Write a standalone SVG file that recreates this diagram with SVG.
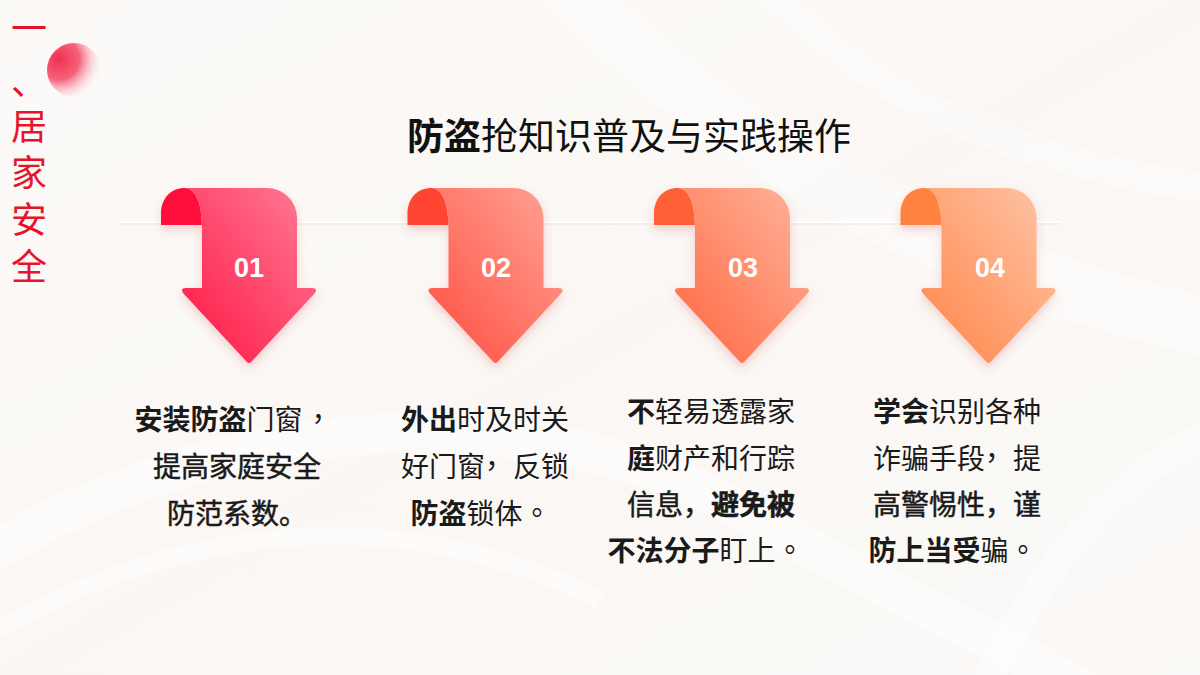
<svg xmlns="http://www.w3.org/2000/svg" width="1200" height="675" viewBox="0 0 1200 675">
<defs>
<linearGradient id="bg" x1="0" y1="0" x2="1" y2="1">
<stop offset="0" stop-color="#fcfaf8"/>
<stop offset="0.5" stop-color="#faf7f4"/>
<stop offset="1" stop-color="#fbf9f7"/>
</linearGradient>
<radialGradient id="ball" cx="0.22" cy="0.3" r="0.85">
<stop offset="0" stop-color="#f0304f"/>
<stop offset="0.45" stop-color="#f4637a"/>
<stop offset="1" stop-color="#ffffff" stop-opacity="0"/>
</radialGradient>
<linearGradient id="g1" x1="0" y1="1" x2="1" y2="0"><stop offset="0" stop-color="#ff1442"/><stop offset="1" stop-color="#ff7d97"/></linearGradient>
<linearGradient id="g2" x1="0" y1="1" x2="1" y2="0"><stop offset="0" stop-color="#ff4c3e"/><stop offset="1" stop-color="#ffa597"/></linearGradient>
<linearGradient id="g3" x1="0" y1="1" x2="1" y2="0"><stop offset="0" stop-color="#ff653f"/><stop offset="1" stop-color="#ffb59c"/></linearGradient>
<linearGradient id="g4" x1="0" y1="1" x2="1" y2="0"><stop offset="0" stop-color="#ff8447"/><stop offset="1" stop-color="#ffc6a8"/></linearGradient>
<filter id="sh" x="-30%" y="-20%" width="160%" height="150%">
<feDropShadow dx="0" dy="5" stdDeviation="5" flood-color="#d04040" flood-opacity="0.22"/>
</filter>
<path id="body" d="M -64,188 H 18 A 30 30 0 0 1 48,218 V 288 H 63 Q 69,288 66,293 L 3,361 Q 0,365 -3,361 L -66,293 Q -69,288 -63,288 H -47 V 228 C -47,200 -55,188 -64,188 Z"/>
<path id="curl" d="M -88,225 V 214 C -88,198 -78,188 -64,188 C -55,188 -47,200 -47,228 L -47,225 Z"/>
</defs>
<style>
.num{font-family:"Liberation Sans",Arial,sans-serif;font-weight:bold;font-size:27px;fill:#ffffff;text-anchor:middle}
.t{font-family:"Noto Sans CJK SC",sans-serif;font-size:28px;fill:#1a1a1a;text-anchor:middle}
.b{font-weight:bold}
.m{stroke:#1a1a1a;stroke-width:0.5px}
.side{font-family:"Noto Sans CJK SC",sans-serif;font-size:36px;fill:#e8132b;text-anchor:middle}
.vert{font-family:"Noto Sans CJK SC",sans-serif;font-size:36px;fill:#e8132b;writing-mode:vertical-rl;letter-spacing:10.7px}
.title{font-family:"Noto Sans CJK SC",sans-serif;font-size:37px;fill:#111111;text-anchor:middle}
</style>
<rect width="1200" height="675" fill="url(#bg)"/>
<g id="background" fill="none" stroke="#ffffff">
<path d="M 560,-20 C 700,120 900,260 1220,330" stroke-width="60" stroke-opacity="0.4"/>
<path d="M 760,-20 C 860,90 1000,160 1220,190" stroke-width="30" stroke-opacity="0.4"/>
<path d="M -20,560 C 200,420 520,380 760,520 C 900,600 1000,640 1100,700" stroke-width="40" stroke-opacity="0.45"/>
<path d="M -20,640 C 180,520 400,500 600,600" stroke-width="18" stroke-opacity="0.5"/>
<path d="M 980,700 C 1040,560 1120,470 1220,430" stroke-width="30" stroke-opacity="0.4"/>
</g>
<line x1="120" y1="224" x2="1060" y2="224" stroke="#ebe6e2" stroke-width="1.2"/>
<line x1="120" y1="222" x2="1060" y2="222" stroke="#ffffff" stroke-width="2"/>
<g id="side-title">
<circle cx="74" cy="70" r="27" fill="url(#ball)"/>
<text class="side" x="29" y="42">一</text>
<text class="side" x="29" y="95">、</text>
<text class="vert" x="29" y="108">居家安全</text>
</g>
<g id="title">
<text class="title" x="629" y="150"><tspan class="b">防盗</tspan>抢知识普及与实践操作</text>
</g>
<g id="node1">
<g transform="translate(249,0)" filter="url(#sh)">
<use href="#curl" fill="#ff0f3a"/>
<use href="#body" fill="url(#g1)"/>
</g>
<text class="num" x="249" y="277">01</text>
<text class="t" x="237" y="430"><tspan class="b">安装防盗</tspan>门窗<tspan dx="9" dy="-9">，</tspan></text>
<text class="t m" x="237" y="477">提高家庭安全</text>
<text class="t m" x="237" y="524">防范系数。</text>
</g>
<g id="node2">
<g transform="translate(495.5,0)" filter="url(#sh)">
<use href="#curl" fill="#ff4433"/>
<use href="#body" fill="url(#g2)"/>
</g>
<text class="num" x="496" y="277">02</text>
<text class="t" x="485" y="430"><tspan class="b">外出</tspan>时及时关</text>
<text class="t" x="485" y="477">好门窗<tspan dy="-9">，</tspan><tspan dy="9">反锁</tspan></text>
<text class="t" x="485" y="524"><tspan class="b">防盗</tspan>锁体<tspan dx="9" dy="-9">。</tspan></text>
</g>
<g id="node3">
<g transform="translate(742,0)" filter="url(#sh)">
<use href="#curl" fill="#ff6036"/>
<use href="#body" fill="url(#g3)"/>
</g>
<text class="num" x="743" y="277">03</text>
<text class="t" x="711" y="422"><tspan class="b">不</tspan>轻易透露家</text>
<text class="t" x="711" y="469"><tspan class="b">庭</tspan>财产和行踪</text>
<text class="t m" x="711" y="515">信息，<tspan class="b">避免被</tspan></text>
<text class="t" x="710" y="561"><tspan class="b">不法分子</tspan>盯上<tspan dx="9" dy="-9">。</tspan></text>
</g>
<g id="node4">
<g transform="translate(988.5,0)" filter="url(#sh)">
<use href="#curl" fill="#ff8240"/>
<use href="#body" fill="url(#g4)"/>
</g>
<text class="num" x="990" y="277">04</text>
<text class="t" x="957" y="422"><tspan class="b">学会</tspan>识别各种</text>
<text class="t" x="957" y="469">诈骗手段<tspan dy="-9">，</tspan><tspan dy="9">提</tspan></text>
<text class="t m" x="957" y="515">高警惕性，谨</text>
<text class="t" x="957" y="561"><tspan class="b">防上当受</tspan>骗<tspan dx="9" dy="-9">。</tspan></text>
</g>
<g id="connectors"/>
</svg>
